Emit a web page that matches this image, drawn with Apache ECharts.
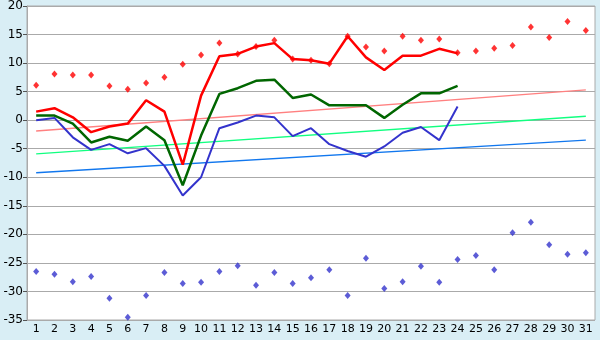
<!DOCTYPE html>
<html>
<head>
<meta charset="utf-8">
<script src="https://cdn.jsdelivr.net/npm/echarts@6/dist/echarts.min.js"></script>
<style>
html,body{margin:0;padding:0;background:#D9EEF5;}
#c{width:600px;height:340px;}
</style>
</head>
<body>
<div id="c"></div>
<script>
var days = ['1','2','3','4','5','6','7','8','9','10','11','12','13','14','15','16','17','18','19','20','21','22','23','24','25','26','27','28','29','30','31'];
var tMax = [1.5,2.1,0.5,-2.1,-1.1,-0.6,3.5,1.5,-7.8,4.3,11.2,11.6,12.9,13.5,10.7,10.5,9.9,14.7,11.0,8.8,11.3,11.3,12.5,11.7];
var tMean = [0.8,0.8,-0.6,-3.9,-2.9,-3.6,-1.1,-3.5,-11.4,-2.7,4.6,5.6,6.9,7.1,3.9,4.5,2.6,2.6,2.6,0.4,2.7,4.7,4.7,6.0];
var tMin = [0.0,0.4,-3.0,-5.2,-4.2,-5.8,-4.9,-8.0,-13.2,-10.0,-1.4,-0.4,0.8,0.5,-2.8,-1.4,-4.2,-5.4,-6.4,-4.6,-2.2,-1.2,-3.5,2.4];
var recHigh = [6.1,8.1,7.9,7.9,6.0,5.4,6.5,7.5,9.8,11.4,13.5,11.6,12.9,14.0,10.7,10.5,9.9,14.7,12.8,12.1,14.7,14.0,14.2,11.8,12.1,12.6,13.1,16.3,14.5,17.3,15.7];
var recLow = [-26.5,-27.0,-28.3,-27.4,-31.2,-34.5,-30.7,-26.7,-28.6,-28.4,-26.5,-25.5,-28.9,-26.7,-28.6,-27.6,-26.2,-30.7,-24.2,-29.5,-28.3,-25.6,-28.4,-24.4,-23.7,-26.2,-19.7,-17.9,-21.8,-23.5,-23.2];
// trend line endpoints (day 1, day 31)
var trendMax = [-1.9, 5.3];
var trendMean = [-5.9, 0.7];
var trendMin = [-9.2, -3.5];
var yTicks = {min:-35, max:20, interval:5};

function endpoints(pair){
  var a = days.map(function(){return null;});
  a[0] = pair[0]; a[days.length-1] = pair[1];
  return a;
}
function trend(pair, color){
  return {type:'line', data:endpoints(pair), connectNulls:true, showSymbol:false, symbol:'none',
    lineStyle:{color:color, width:1.4}, z:1, silent:true};
}
function mainLine(data, color, w){
  return {type:'line', data:data, showSymbol:false, symbol:'none', lineStyle:{color:color, width:w}, z:3, silent:true};
}
function dots(data, color){
  return {type:'scatter', data:data, symbol:'diamond', symbolSize:[6,7], itemStyle:{color:color}, z:5, silent:true};
}

var chart = echarts.init(document.getElementById('c'), null, {renderer:'canvas'});
chart.setOption({
  animation:false,
  backgroundColor:'#D9EEF5',
  grid:{left:27, right:5, top:5, bottom:20, show:true, backgroundColor:'#FFFFFF', borderColor:'#AAAAAA', borderWidth:1, containLabel:false},
  xAxis:{type:'category', data:days, boundaryGap:true,
    axisLine:{lineStyle:{color:'#AAAAAA'}},
    axisTick:{alignWithLabel:true, interval:0, length:5, lineStyle:{color:'#555555'}},
    axisLabel:{interval:0, color:'#000', fontFamily:'DejaVu Sans', fontSize:11, margin:4},
    splitLine:{show:false}},
  yAxis:{type:'value', min:yTicks.min, max:yTicks.max, interval:yTicks.interval,
    axisLine:{show:true, lineStyle:{color:'#AAAAAA'}},
    axisTick:{show:true, length:4, lineStyle:{color:'#555555'}},
    axisLabel:{color:'#000', fontFamily:'DejaVu Sans', fontSize:12, margin:4},
    splitLine:{lineStyle:{color:'#AAAAAA', width:1}}},
  series:[
    trend(trendMax, '#FF8080'),
    trend(trendMean, '#11FF80'),
    trend(trendMin, '#1177EE'),
    mainLine(tMin, '#3333CC', 2),
    mainLine(tMean, '#006600', 2.5),
    mainLine(tMax, '#FF0000', 2.5),
    dots(recHigh, '#FF0000'),
    dots(recLow, '#3333CC')
  ]
});
</script>
</body>
</html>
